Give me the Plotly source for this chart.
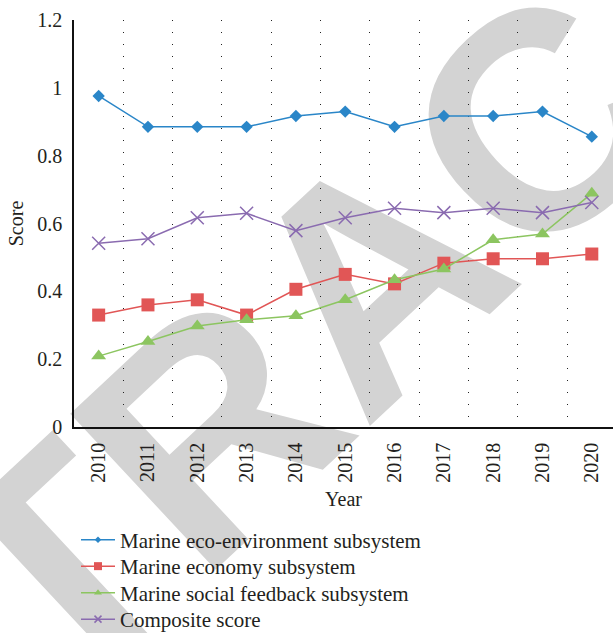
import plotly.graph_objects as go

years = ["2010", "2011", "2012", "2013", "2014", "2015", "2016", "2017", "2018", "2019", "2020"]

eco_environment = [0.976, 0.885, 0.885, 0.885, 0.917, 0.930, 0.885, 0.917, 0.917, 0.930, 0.856]
economy = [0.330, 0.360, 0.375, 0.330, 0.406, 0.450, 0.422, 0.483, 0.496, 0.496, 0.510]
social_feedback = [0.209, 0.252, 0.298, 0.316, 0.328, 0.375, 0.434, 0.466, 0.552, 0.569, 0.689]
composite = [0.542, 0.555, 0.617, 0.630, 0.579, 0.617, 0.645, 0.632, 0.645, 0.632, 0.662]

y_ticks = [0, 0.2, 0.4, 0.6, 0.8, 1, 1.2]
y_tick_text = ["0", "0.2", "0.4", "0.6", "0.8", "1", "1.2"]

SERIF = "Liberation Serif"
TEXT_COLOR = "#231f20"
W, H = 613, 633
PLOT_L, PLOT_T, PLOT_B = 74, 20, 427
PLOT_W, PLOT_H = W - PLOT_L, PLOT_B - PLOT_T


def px_to_paper_x(px):
    return (px - PLOT_L) / PLOT_W


def px_to_paper_y(py):
    return (PLOT_B - py) / PLOT_H


# name, values, colour, symbol, plot marker size, legend marker size
series = [
    ("Marine eco-environment subsystem", eco_environment, "#2a86c8", "diamond", 9.5, 5),
    ("Marine economy subsystem", economy, "#e15656", "square", 13, 8),
    ("Marine social feedback subsystem", social_feedback, "#8cc560", "triangle-up", 13, 7),
    ("Composite score", composite, "#8a6bb0", "x-thin", 13, 7),
]
legend_ids = ["legend", "legend2", "legend3", "legend4"]
legend_rows_px = [540, 566.5, 593, 619.5]

fig = go.Figure()
for (name, values, color, symbol, size, leg_size), leg in zip(series, legend_ids):
    def make_marker(s):
        m = dict(symbol=symbol, size=s, color=color)
        if symbol == "x-thin":
            m["line"] = dict(color=color, width=1.5)
        return m
    fig.add_trace(go.Scatter(
        x=years, y=values, name=name, mode="lines+markers",
        line=dict(color=color, width=1.5),
        marker=make_marker(size), showlegend=False,
    ))
    # legend key with a smaller symbol than the plotted markers
    fig.add_trace(go.Scatter(
        x=[None], y=[None], name=name, mode="lines+markers",
        line=dict(color=color, width=1.5),
        marker=make_marker(leg_size), legend=leg, showlegend=True,
    ))

# Diagonal "RETRACTED" stamp behind the data
cx, cy = 353, 255
fig.add_shape(
    type="rect", xref="paper", yref="paper",
    x0=px_to_paper_x(cx) - 0.001, x1=px_to_paper_x(cx) + 0.001,
    y0=px_to_paper_y(cy) - 0.001, y1=px_to_paper_y(cy) + 0.001,
    line=dict(width=0), fillcolor="rgba(0,0,0,0)",
    layer="below",
    label=dict(
        text="RETRACTED", textangle=-43, textposition="middle center",
        font=dict(family="Liberation Sans", size=310, color="#d3d3d3", weight="bold"),
    ),
)

legend_style = dict(
    xref="paper", yref="container", x=px_to_paper_x(76), xanchor="left", yanchor="middle",
    font=dict(family=SERIF, size=21, color=TEXT_COLOR),
    bgcolor="rgba(0,0,0,0)", borderwidth=0, itemwidth=34,
)
legends = {}
for leg, row in zip(legend_ids, legend_rows_px):
    legends[leg] = dict(legend_style, y=1 - row / H)

fig.update_layout(
    width=W, height=H,
    margin=dict(l=PLOT_L, r=0, t=PLOT_T, b=H - PLOT_B),
    paper_bgcolor="white", plot_bgcolor="rgba(0,0,0,0)",
    font=dict(family=SERIF, size=20, color=TEXT_COLOR),
    showlegend=True,
    **legends,
)

fig.update_xaxes(
    type="category", range=[-0.5, 10.43],
    tickangle=-90, tickson="boundaries", ticks="",
    showgrid=True, gridcolor="#222222", gridwidth=1, griddash="1px,11px",
    showline=True, linecolor="#111111", linewidth=1.5,
    tickfont=dict(family=SERIF, size=20, color=TEXT_COLOR),
    ticklabelstandoff=6,
    title=dict(text="Year", font=dict(family=SERIF, size=20, color=TEXT_COLOR), standoff=10),
    automargin=False,
)
fig.update_yaxes(
    range=[0, 1.2], tickvals=y_ticks, ticktext=y_tick_text, ticks="",
    showgrid=False, zeroline=False,
    showline=True, linecolor="#111111", linewidth=1.5,
    tickfont=dict(family=SERIF, size=20, color=TEXT_COLOR),
    ticklabelstandoff=6,
    title=dict(text="Score", font=dict(family=SERIF, size=20, color=TEXT_COLOR), standoff=8),
    automargin=False,
)

fig.write_html("out.html")
